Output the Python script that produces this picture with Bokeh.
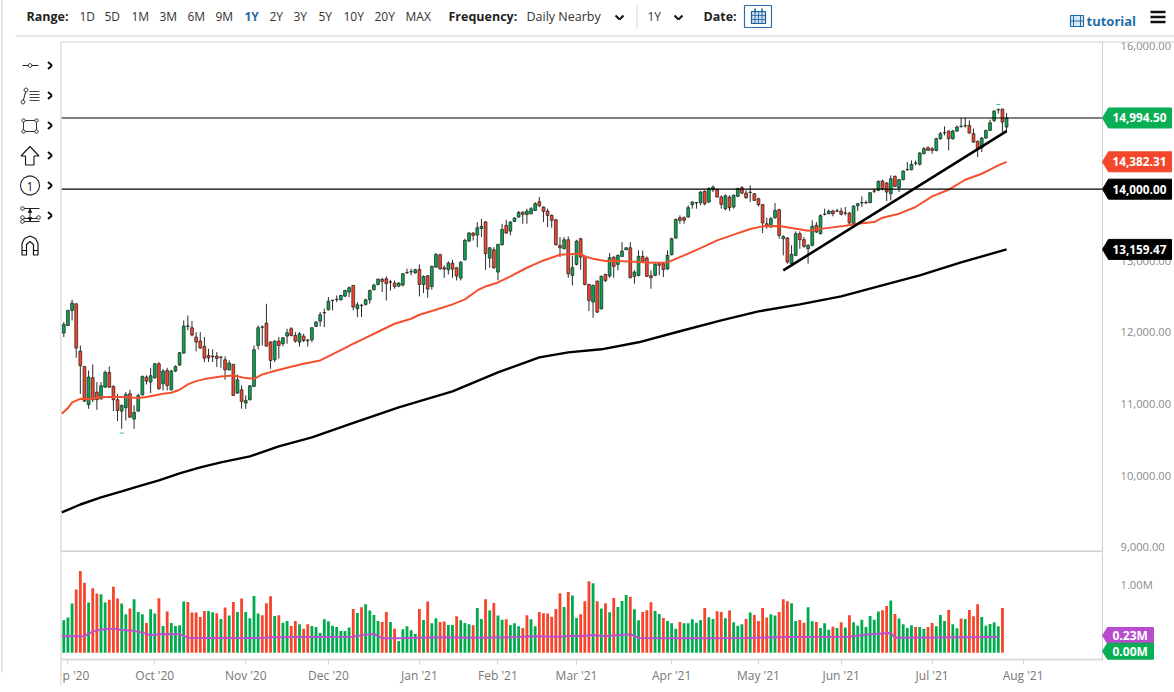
import math
from bokeh.plotting import figure
from bokeh.layouts import column
from bokeh.models import (ColumnDataSource, FixedTicker, NumeralTickFormatter, Range1d, Label, PolyAnnotation, LinearAxis)
from bokeh.embed import file_html
from bokeh.resources import INLINE

open_ = [
11991,12098,12307,12400,11739,11525,10990,11367,11167,11073,
11236,11441,11246,11060,10901,10948,11143,10790,10901,11129,
11376,11306,11367,11562,11283,11469,11199,11460,11544,11711,
12085,12065,11935,11879,11804,11679,11668,11669,11657,11618,
11478,11553,11153,11199,11013,11060,11246,11818,12072,12130,
11865,11618,11879,11842,11949,12051,11958,11865,11949,11892,
11897,12084,12158,12272,12316,12445,12459,12456,12507,12563,
12656,12330,12380,12391,12456,12596,12670,12740,12749,12705,
12689,12647,12661,12831,12845,12833,12880,12670,12791,12642,
12912,13085,12903,12875,12968,12903,12759,13015,13275,13387,
13359,13452,13545,13038,13154,12843,13224,13494,13415,13550,
13611,13676,13648,13657,13704,13825,13750,13694,13634,13573,
13215,13168,13294,12796,12950,13308,13061,12670,12424,12717,
12330,12810,12787,13052,12950,13061,13154,13182,12782,12796,
13061,13039,12792,12797,12969,12960,12885,13085,13318,13602,
13602,13611,13784,13809,13811,13970,13821,13993,13993,13891,
13728,13891,13751,13900,14021,13946,13958,13937,13867,13784,
13518,13472,13602,13714,13309,13318,12960,13076,13379,13295,
13169,13216,13495,13379,13647,13658,13695,13697,13695,13669,
13667,13518,13770,13809,13813,13811,13972,13984,14114,14086,
13937,14179,14021,14132,14270,14272,14363,14347,14496,14579,
14565,14542,14705,14787,14812,14705,14812,14875,14885,14891,
14775,14668,14579,14714,14821,14961,15108,15119,14868]
high = [
12144,12316,12456,12400,11818,11525,11469,11553,11306,11306,
11469,11525,11260,11143,10994,11167,11199,10980,11143,11399,
11399,11506,11572,11586,11492,11506,11478,11539,11725,12167,
12237,12158,12004,12004,11935,11772,11762,11725,11665,11665,
11609,11562,11413,11260,11120,11264,11818,12098,12098,12400,
11879,11888,11935,11935,12051,12074,12004,12004,11981,11911,
12074,12158,12284,12330,12493,12456,12517,12526,12596,12642,
12660,12423,12400,12470,12596,12680,12749,12763,12782,12735,
12726,12703,12829,12889,12889,12889,12950,12796,12801,12931,
13108,13099,12936,12996,13015,12912,12996,13308,13401,13401,
13541,13587,13550,13192,13192,13238,13517,13573,13555,13611,
13694,13694,13727,13750,13820,13890,13760,13727,13648,13587,
13331,13331,13341,13075,13294,13322,13075,12680,12670,12726,
12796,12819,13108,13061,13089,13261,13190,13261,12866,13145,
13145,13062,12866,12969,12983,12983,13146,13323,13588,13635,
13621,13774,13830,13821,13974,13984,14030,14054,14007,13914,
13928,13914,13928,14021,14044,13984,14054,13946,13881,13790,
13602,13611,13807,13728,13355,13332,13216,13411,13411,13332,
13230,13565,13541,13649,13728,13714,13714,13728,13742,13751,
13681,13774,13807,13900,13844,13960,14007,14123,14132,14100,
14193,14193,14146,14263,14379,14402,14402,14519,14589,14598,
14589,14719,14798,14877,14821,14830,14891,14998,14998,14961,
14845,14682,14728,14831,14970,15101,15124,15124,15063]
low = [
11935,12088,12167,11646,11143,11027,10934,11027,10920,11060,
11227,11227,10901,10762,10655,10771,10808,10655,10892,11120,
11274,11153,11353,11199,11190,11190,11190,11446,11534,11702,
12028,11944,11734,11772,11586,11586,11586,11516,11506,11339,
11469,11115,11143,10934,10934,11050,11236,11762,11818,11804,
11492,11586,11632,11804,11842,11944,11856,11804,11865,11804,
11865,12074,12084,12074,12307,12307,12423,12447,12493,12493,
12307,12214,12214,12377,12400,12586,12656,12563,12447,12586,
12610,12633,12642,12819,12796,12819,12503,12549,12484,12596,
12903,12875,12763,12810,12763,12726,12726,13005,13261,13285,
13192,13331,12875,12903,12889,12726,13215,13378,13355,13541,
13601,13517,13517,13648,13694,13750,13541,13471,13462,13215,
13052,13160,12763,12656,12936,12875,12656,12298,12205,12270,
12321,12703,12763,12763,12866,13052,13150,12755,12680,12782,
12982,12773,12610,12783,12797,12773,12876,13076,13309,13518,
13518,13602,13728,13728,13774,13774,13807,13960,13881,13728,
13704,13695,13728,13891,13928,13867,13821,13835,13760,13388,
13448,13462,13588,13309,13076,12960,12936,13067,13169,13183,
12960,13202,13388,13369,13635,13649,13621,13681,13635,13635,
13509,13509,13695,13751,13797,13807,13946,13974,13983,13835,
13844,14030,13960,14123,14263,14263,14333,14333,14486,14533,
14496,14528,14691,14752,14542,14691,14798,14859,14859,14775,
14649,14449,14519,14705,14812,14938,15054,14798,14798]
close = [
12112,12307,12409,11781,11534,11041,11376,11060,11060,11255,
11441,11236,11060,10911,10980,11134,10817,10883,11120,11385,
11320,11395,11562,11213,11460,11260,11460,11525,11716,12088,
12090,11963,11865,11781,11641,11646,11662,11637,11653,11478,
11572,11120,11339,11036,11050,11255,11758,12065,12076,11809,
11609,11879,11818,11925,11995,11958,11879,11981,11888,11884,
12065,12144,12247,12276,12437,12449,12463,12517,12586,12624,
12354,12386,12374,12456,12586,12661,12745,12712,12680,12701,
12642,12689,12819,12835,12849,12875,12670,12782,12605,12922,
13089,12889,12884,12968,12884,12787,12978,13285,13387,13355,
13462,13480,13099,13182,12903,13229,13438,13387,13541,13597,
13676,13648,13694,13727,13797,13769,13690,13634,13564,13224,
13182,13294,12819,12903,13275,13052,12670,12447,12656,12284,
12782,12726,13043,12922,13075,13136,13182,12763,12843,13061,
12996,12783,12764,12950,12936,12876,13076,13309,13579,13565,
13565,13742,13821,13813,13960,13797,14007,14030,13891,13788,
13909,13742,13914,14007,13946,13881,13954,13844,13784,13528,
13481,13588,13704,13355,13341,12983,13090,13379,13295,13202,
13216,13481,13402,13630,13651,13695,13658,13693,13649,13665,
13528,13765,13797,13813,13809,13951,13976,14109,14007,13960,
14146,14039,14132,14253,14274,14347,14367,14505,14565,14542,
14542,14705,14775,14791,14705,14812,14868,14879,14889,14784,
14658,14565,14714,14821,14928,15091,15112,14938,14994.5]

volume = [
.475,.515,.72,.926,1.20,1.025,.735,.946,.868,.858,
.735,.775,.966,.794,.72,.564,.647,.784,.598,.564,
.436,.637,.574,.799,.392,.603,.436,.392,.402,.75,
.745,.588,.588,.525,.613,.613,.593,.578,.495,.662,
.544,.745,.598,.794,.598,.505,.833,.574,.549,.725,
.828,.539,.549,.441,.466,.392,.466,.417,.353,.417,
.392,.377,.289,.49,.461,.397,.377,.319,.319,.368,
.642,.583,.667,.711,.618,.554,.466,.451,.598,.451,
.353,.172,.343,.387,.328,.275,.642,.48,.75,.431,
.505,.451,.456,.407,.407,.534,.475,.436,.417,.402,
.657,.495,.784,.618,.73,.544,.485,.49,.407,.431,
.387,.363,.549,.49,.387,.598,.578,.574,.529,.642,
.873,.672,.892,.838,.51,.564,.755,1.049,1.02,.755,
.647,.725,.593,.804,.672,.76,.848,.819,.637,.475,
.598,.623,.74,.613,.569,.51,.466,.431,.353,.451,
.431,.431,.49,.441,.48,.657,.52,.495,.608,.598,
.505,.618,.446,.397,.417,.495,.588,.554,.466,.657,
.515,.564,.544,.598,.784,.755,.725,.466,.48,.441,
.667,.461,.451,.363,.431,.338,.382,.363,.446,.368,
.549,.446,.397,.485,.377,.539,.485,.603,.623,.686,
.765,.569,.5,.417,.363,.402,.377,.377,.353,.377,
.436,.387,.554,.466,.627,.417,.358,.5,.495,.627,
.534,.711,.525,.397,.422,.446,.387,.657]
volume_dir = ("GGGRRRGRRG" "GRRRGGRGGG" "RGGRGRGGGG" "RRRRRGGRGR" "GRGRGGGGRR"
              "RGRGGRRGRR" "GGGGGGGGGG" "RGRGGGGRRG" "RGGGGGRGRG" "GRRGGRGGGR"
              "GGRGRGGRGG" "GRRGGRRRRR" "RGRGGRRRGR" "GRGRGGGRGG" "RRRGGRGGGR"
              "GGGGGRGGRR" "GRGGGRGRRR" "RGGRRRGGRR" "GGRGGGRGRG" "RGGGGGGGRR"
              "GRGGGGRGGR" "RGGGRGGRGR" "RRGGGGGR")

ma50_i = [-0.5,1,2,4,6,10,14,18,20,24,26,28,30,32,34,38,41,44,46,48,50,54,58,62,64,66,68,70,72,77,80,84,86,90,94,97,100,102,105,108,112,116,120,123,125,126,128,131,134,138,142,146,150,154,158,162,166,169,173,176,180,184,188,192,196,198,202,206,210,214,218,222,224,226,228]
ma50_v = [10864,10943,11022,11073,11070,11097,11097,11083,11097,11143,11157,11199,11274,11320,11348,11385,11399,11362,11353,11413,11446,11506,11562,11609,11665,11725,11781,11842,11897,12037,12121,12191,12247,12317,12391,12461,12586,12642,12698,12782,12903,13005,13085,13094,13099,13061,13029,12996,12996,12987,12973,12978,13076,13178,13285,13365,13444,13481,13486,13458,13420,13453,13481,13518,13541,13602,13658,13751,13900,13993,14132,14216,14272,14333,14382.31]
ma200_i = [-0.5,4,9,14,18,23,28,33,38,45,52,60,69,81,94,105,115,122,130,139,149,159,168,178,188,197,207,217,228]
ma200_v = [9486,9597,9696,9781,9851,9934,10031,10115,10185,10269,10408,10534,10716,10953,11176,11442,11651,11722,11764,11862,12016,12168,12294,12392,12504,12644,12797,12978,13159.47]
vol_ma_i = [-0.5,5,6,8,10,12,14,17,19,21,23,25,28,30,33,48,50,70,73,75,77,81,90,100,110,113,120,123,125,128,131,134,137,139,150,165,175,190,195,200,201,226]
vol_ma_v = [.24,.24,.28,.33,.343,.353,.333,.32,.294,.255,.27,.275,.27,.22,.216,.216,.225,.235,.265,.275,.21,.21,.225,.22,.23,.24,.235,.25,.24,.26,.24,.255,.27,.216,.21,.216,.23,.235,.27,.29,.22,.23]
trend_i = [174, 228]
trend_v = [12866, 14811]
level_values = [14994.5, 14000]
mark_i = [14, 226]
mark_v = [10594, 15184]
price_ticks = [9000,10000,11000,12000,13000,14000,15000,16000]
date_ticks = {22:"Oct '20",44:"Nov '20",64:"Dec '20",86:"Jan '21",105:"Feb '21",124:"Mar '21",147:"Apr '21",168:"May '21",188:"Jun '21",210:"Jul '21",232:"Aug '21"}
first_tick = 1
first_tick_text = "p '20"
tag_values = [14994.5, 14382.31, 14000.0, 13159.47]
tag_texts = ["14,994.50", "14,382.31", "14,000.00", "13,159.47"]
tag_colors = ["#0aae55", "#f4472b", "#000000", "#000000"]
vol_tag_values = [0.23, 0.0]
vol_tag_texts = ["0.23M", "0.00M"]
vol_tag_colors = ["#b84ccf", "#0aae55"]
range_items = ["1D","5D","1M","3M","6M","9M","1Y","2Y","3Y","5Y","10Y","20Y","MAX"]
range_x = [79,104,131,159,187,215,244,269,293,318,343,374,405]

FONT = "Open Sans"
GREEN, RED = "#0aa550", "#f2452a"
VGREEN, VRED = "#00ab4e", "#f6452a"
MAIN_H, VOL_H, W = 552, 140, 1174
I_PER_PX = 0.24184
PRICE_PER_PX = 13.965
VOL_PER_PX = 0.014673

def i_at(px):
    return -0.556 + (px - 61) * I_PER_PX

x_range = Range1d(i_at(0), i_at(W))
main = figure(width=W, height=MAIN_H, x_range=x_range,
              y_range=Range1d(8940.6 - PRICE_PER_PX, 16048.6 + 42 * PRICE_PER_PX),
              output_backend="svg", toolbar_location=None, x_axis_location=None, y_axis_location=None,
              min_border_left=0, min_border_right=0, min_border_top=0, min_border_bottom=0,
              background_fill_color="white")
main.grid.visible = False
main.outline_line_color = None

def style_value_axis(a):
    a.axis_line_color = None
    a.major_tick_line_color = None
    a.minor_tick_line_color = None
    a.major_label_standoff = 12
    a.major_label_text_font = FONT
    a.major_label_text_font_size = "11.2px"
    a.major_label_text_color = "#8a8a8a"

ax = LinearAxis(fixed_location=i_at(1102), ticker=FixedTicker(ticks=price_ticks),
                formatter=NumeralTickFormatter(format="0,0.00"))
style_value_axis(ax)
main.add_layout(ax, "right")

idx = list(range(len(close)))
src = ColumnDataSource(dict(i=idx, o=open_, h=high, l=low, c=close,
    top=[max(a, b) for a, b in zip(open_, close)],
    bot=[min(a, b) for a, b in zip(open_, close)],
    col=[GREEN if c >= o else RED for o, c in zip(open_, close)]))
main.segment("i", "h", "i", "l", source=src, line_color="#2b2b2b", line_width=1)
main.vbar("i", 0.68, "top", "bot", source=src, fill_color="col", line_color="#1d1d1d", line_width=0.7)
main.line(ma50_i, ma50_v, line_color="#f4502f", line_width=2)
main.line(ma200_i, ma200_v, line_color="#000000", line_width=2.4)
main.line(trend_i, trend_v, line_color="#000000", line_width=2.6)
main.scatter(mark_i, mark_v, marker="dash", size=4, line_color="#35c08a", line_width=1)
for v in level_values:
    main.line([i_at(61), i_at(1102)], [v, v], line_color="#000000", line_width=1.2)

def txt(fig, x, y, s, size="12px", bold=False, color="#333333", align="left", bottom=MAIN_H):
    fig.add_layout(Label(x=x, y=bottom-y, x_units="screen", y_units="screen", text=s, text_font=FONT,
                         text_font_size=size, text_font_style="bold" if bold else "normal",
                         text_color=color, text_align=align, text_baseline="middle"))

def poly(fig, xs, ys, fill=None, line="#222222", w=1.0, bottom=MAIN_H):
    fig.add_layout(PolyAnnotation(xs=list(xs), ys=[bottom-y for y in ys], xs_units="screen", ys_units="screen",
                                  fill_color=fill or "white", fill_alpha=1 if fill else 0,
                                  line_color=line, line_width=w, line_alpha=1 if line else 0))

def seg(fig, x0, y0, x1, y1, color="#222222", w=1.0, bottom=MAIN_H):
    poly(fig, [x0, x1], [y0, y1], None, color, w, bottom)

def circ(fig, cx, cy, r, fill="white", line="#222222", w=1.0):
    n = 14
    poly(fig, [cx + r*math.cos(2*math.pi*k/n) for k in range(n)],
         [cy + r*math.sin(2*math.pi*k/n) for k in range(n)], fill, line, w)

# frame lines
seg(main, 1.5, 0, 1.5, 552, "#d4d4d4", 1.2)
seg(main, 15, 35.5, 1174, 35.5, "#cfcfcf", 1)
seg(main, 60.5, 41.5, 1174, 41.5, "#cfcfcf", 1)
seg(main, 60.5, 41.5, 60.5, 552, "#cfcfcf", 1)
seg(main, 1102, 41.5, 1102, 552, "#cfcfcf", 1)
seg(main, 60.5, 551, 1102, 551, "#d0d0d0", 2)

# top bar
txt(main, 26, 16, "Range:", "12.5px", True, "#222222")
for t, x in zip(range_items, range_x):
    if t == "1Y":
        txt(main, x, 16, t, "12px", True, "#1e6aa8")
    else:
        txt(main, x, 16, t, "12px", False, "#333333")
txt(main, 448, 16, "Frequency:", "12.5px", True, "#222222")
txt(main, 526, 16, "Daily Nearby", "12.5px", False, "#333333")
txt(main, 647, 16, "1Y", "12px", False, "#333333")
txt(main, 703, 16, "Date:", "12.5px", True, "#222222")
for cx in (619, 678):
    seg(main, cx-4, 15, cx, 19, "#111111", 2)
    seg(main, cx, 19, cx+4, 15, "#111111", 2)
seg(main, 636.5, 4, 636.5, 28, "#d4d4d4", 1)
poly(main, [744, 771, 771, 744], [5, 5, 27, 27], "white", "#2b6fb0", 1.2)
poly(main, [751, 765, 765, 751], [11, 11, 23, 23], "#c9dcee", "#1d5f9e", 1.2)
for gy in (15, 19):
    seg(main, 751, gy, 765, gy, "#1d5f9e", 0.8)
for gx in (754.5, 758, 761.5):
    seg(main, gx, 11, gx, 23, "#1d5f9e", 0.8)
seg(main, 754.5, 8, 754.5, 12, "#1d5f9e", 1.6)
seg(main, 761.5, 8, 761.5, 12, "#1d5f9e", 1.6)
txt(main, 1086, 20.5, "tutorial", "13px", True, "#1e6fa8")
poly(main, [1070, 1083, 1083, 1070], [15, 15, 26, 26], "#dce9f4", "#1e6fa8", 1.2)
seg(main, 1073, 15, 1073, 26, "#1e6fa8", 1)
seg(main, 1080, 15, 1080, 26, "#1e6fa8", 1)
seg(main, 1070, 20.5, 1083, 20.5, "#1e6fa8", 1)
for hy in (11.5, 16.5, 21.5):
    seg(main, 1150, hy, 1165, hy, "#111111", 2.4)

# left drawing tools
for cy in (65, 95, 125, 155, 185, 215):
    seg(main, 47.5, cy-3.5, 51.5, cy, "#111111", 2)
    seg(main, 51.5, cy, 47.5, cy+3.5, "#111111", 2)
seg(main, 22, 65, 38, 65)
circ(main, 29.5, 65, 1.9)
seg(main, 22.5, 101, 25.5, 90)
circ(main, 22.5, 101.5, 1.9)
circ(main, 25.5, 89.5, 1.9)
for ly in (91, 94, 97, 100):
    seg(main, 29, ly, 39, ly, "#444444", 1)
poly(main, [23, 36, 36, 23], [120, 120, 131, 131], None, "#333333", 1)
for cx, cy in ((23, 120), (36, 120), (36, 131), (23, 131)):
    circ(main, cx, cy, 1.7)
poly(main, [29.5, 38.5, 33.5, 33.5, 25, 25, 20.5], [146, 155.5, 155.5, 164.5, 164.5, 155.5, 155.5], "white", "#111111", 1.1)
circ(main, 29.5, 185, 9.6, "white", "#222222", 1.1)
txt(main, 29.5, 185.5, "1", "12px", False, "#222222", "center")
seg(main, 22, 208, 39, 208)
seg(main, 22, 218, 39, 218)
seg(main, 22, 221, 39, 221)
seg(main, 29.5, 208, 29.5, 221)
poly(main, [27.5, 31.5, 29.5], [212, 212, 208.5], "#111111", "#111111", 0.5)
poly(main, [27.5, 31.5, 29.5], [217, 217, 220.5], "#111111", "#111111", 0.5)
for cx, cy in ((22, 208), (22, 217), (22, 221), (38, 217)):
    circ(main, cx, cy, 1.8)
poly(main, [21.5, 21.5, 24, 29.5, 35, 37.5, 37.5, 33, 33, 29.5, 26, 26],
     [254.5, 243, 238, 235.5, 238, 243, 254.5, 254.5, 244, 241, 244, 254.5], "white", "#111111", 1.2)
seg(main, 21.5, 250, 26, 250, "#111111", 1.2)
seg(main, 33, 250, 37.5, 250, "#111111", 1.2)

# price tags, tied to the price scale
half = 10 * PRICE_PER_PX
for v, s, c in zip(tag_values, tag_texts, tag_colors):
    main.add_layout(PolyAnnotation(xs=[1102, 1108, 1171, 1171, 1108], ys=[v, v+half, v+half, v-half, v-half],
                                   xs_units="screen", ys_units="data", fill_color=c, fill_alpha=1, line_color=c, line_alpha=1))
    main.add_layout(Label(x=1112, y=v, x_units="screen", y_units="data", text=s, text_font=FONT, text_font_size="11.8px",
                          text_font_style="bold", text_color="white", text_baseline="middle"))

# volume pane
vol = figure(width=W, height=VOL_H, x_range=x_range,
             y_range=Range1d(1.47 - VOL_H * VOL_PER_PX, 1.47),
             output_backend="svg", toolbar_location=None, x_axis_location=None, y_axis_location=None,
             min_border_left=0, min_border_right=0, min_border_top=0, min_border_bottom=0,
             background_fill_color="white")
vol.grid.visible = False
vol.outline_line_color = None
vax = LinearAxis(fixed_location=i_at(1102), ticker=FixedTicker(ticks=[1.0]), major_label_overrides={1.0: "1.00M"})
style_value_axis(vax)
vol.add_layout(vax, "right")
xax = LinearAxis(fixed_location=-0.1, ticker=FixedTicker(ticks=[first_tick] + list(date_ticks)),
                 major_label_overrides={**date_ticks, first_tick: " "})
xax.axis_line_color = None
xax.major_tick_line_color = "#d4d4d4"
xax.major_tick_in = 0
xax.major_tick_out = 5
xax.minor_tick_line_color = None
xax.major_label_standoff = 3
xax.major_label_text_font = FONT
xax.major_label_text_font_size = "12px"
xax.major_label_text_color = "#777777"
vol.add_layout(xax, "below")

vsrc = ColumnDataSource(dict(i=list(range(len(volume))), v=volume,
                             col=[VGREEN if d == "G" else VRED for d in volume_dir]))
vol.vbar("i", 0.68, "v", 0, source=vsrc, fill_color="col", line_color=None)
vol.line(vol_ma_i, vol_ma_v, line_color="#bb4fcf", line_width=2)

V_B = 692
seg(vol, 1.5, 552, 1.5, 672, "#d4d4d4", 1.2, bottom=V_B)
txt(vol, 62, 675, first_tick_text, "12px", False, "#777777", bottom=V_B)
seg(vol, 60.5, 552, 60.5, 685, "#cfcfcf", 1, bottom=V_B)
seg(vol, 1102, 552, 1102, 660, "#cfcfcf", 1, bottom=V_B)
seg(vol, 60.5, 659, 1102, 659, "#dcdcdc", 2, bottom=V_B)

vh = 8 * VOL_PER_PX
lift = 1.5 * VOL_PER_PX
for v, s, c in zip(vol_tag_values, vol_tag_texts, vol_tag_colors):
    yc = v + lift
    vol.add_layout(PolyAnnotation(xs=[1102, 1107, 1153, 1153, 1107], ys=[yc, yc+vh, yc+vh, yc-vh, yc-vh],
                                  xs_units="screen", ys_units="data", fill_color=c, fill_alpha=1, line_color=c, line_alpha=1))
    vol.add_layout(Label(x=1112, y=yc, x_units="screen", y_units="data", text=s, text_font=FONT, text_font_size="12px",
                         text_font_style="bold", text_color="white", text_baseline="middle"))

p = column(main, vol, spacing=0)
assert len(open_) == len(high) == len(low) == len(close) == 229
assert len(volume) == len(volume_dir) == 228
open("out.html", "w").write(file_html(p, INLINE))
